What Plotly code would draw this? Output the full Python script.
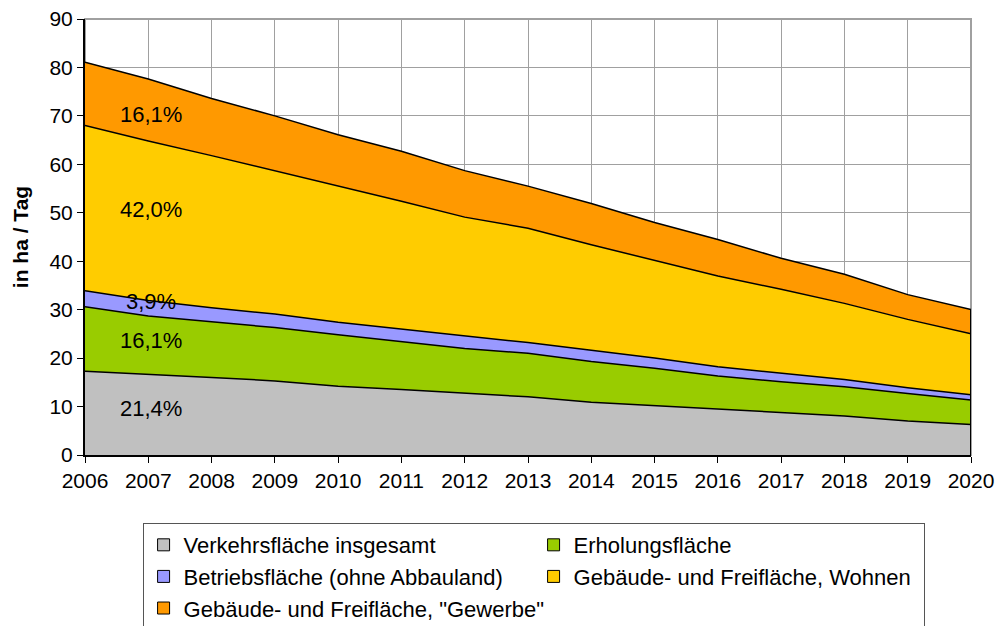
import plotly.graph_objects as go

years = list(range(2006, 2021))

verkehr = [17.3, 16.7, 16.0, 15.3, 14.2, 13.5, 12.7, 12.0, 10.9, 10.2, 9.4, 8.8, 8.05, 7.0, 6.3]
erholung = [13.3, 12.0, 11.5, 11.0, 10.6, 9.9, 9.3, 9.0, 8.4, 7.7, 6.9, 6.3, 6.05, 5.7, 5.05]
betrieb = [3.3, 3.2, 2.9, 2.8, 2.6, 2.6, 2.6, 2.2, 2.3, 2.1, 1.9, 1.8, 1.5, 1.2, 1.1]
wohnen = [34.1, 32.9, 31.4, 29.6, 28.2, 26.4, 24.5, 23.6, 21.8, 20.1, 18.75, 17.3, 15.7, 14.1, 12.6]
gewerbe = [13.1, 12.8, 11.8, 11.3, 10.5, 10.3, 9.6, 8.7, 8.5, 7.9, 7.55, 6.4, 6.0, 5.1, 5.0]

namen = [
    "Verkehrsfläche insgesamt",
    "Erholungsfläche",
    "Betriebsfläche (ohne Abbauland)",
    "Gebäude- und Freifläche, Wohnen",
    'Gebäude- und Freifläche, "Gewerbe"',
]
farben = ["#C0C0C0", "#99CC00", "#9999FF", "#FFCC00", "#FF9900"]

# Prozent-Beschriftungen (Text, y-Position in ha/Tag)
anteile = ["21,4%", "16,1%", "3,9%", "42,0%", "16,1%"]
anteil_y = [9.7, 23.7, 31.6, 50.6, 70.2]

SCHRIFT = "Liberation Sans, Arial, sans-serif"

fig = go.Figure()

reihen = [verkehr, erholung, betrieb, wohnen, gewerbe]
for name, werte, farbe in zip(namen, reihen, farben):
    fig.add_trace(go.Scatter(
        x=years, y=werte, name=name,
        mode="lines", stackgroup="a",
        line=dict(color="black", width=1.5),
        fillcolor=farbe, showlegend=False,
    ))

# rechter Abschluss der Flächen (schwarz wie im Original)
summe = [sum(v) for v in zip(*reihen)]
fig.add_trace(go.Scatter(x=[years[-1], years[-1]], y=[0, summe[-1]], mode="lines",
                         line=dict(color="black", width=2), showlegend=False,
                         hoverinfo="skip"))

# Legendeneinträge als Quadrate
for name, farbe in zip(namen, farben):
    fig.add_trace(go.Bar(x=[None], y=[None], name=name,
                         marker=dict(color=farbe, line=dict(color="black", width=1))))

for txt, yv in zip(anteile, anteil_y):
    fig.add_annotation(x=2007.05, y=yv, text=txt, showarrow=False,
                       font=dict(size=22, color="black", family=SCHRIFT))

# Seite hat 8px Rand -> Figur etwas kleiner
fig.update_layout(
    width=996, height=618,
    margin=dict(l=77, r=33, t=11, b=171, autoexpand=False),
    paper_bgcolor="white", plot_bgcolor="white",
    font=dict(family=SCHRIFT, size=21, color="black"),
    showlegend=True,
    legend=dict(
        orientation="h", x=0.065, y=-0.156, xanchor="left", yanchor="top",
        entrywidth=345, entrywidthmode="pixels",
        bordercolor="#555", borderwidth=1, bgcolor="white",
        font=dict(size=22, family=SCHRIFT), traceorder="normal",
    ),
    xaxis=dict(
        range=[2006, 2020], tickmode="linear", dtick=1, tick0=2006,
        showgrid=True, gridcolor="#A0A0A0", gridwidth=1,
        showline=True, linecolor="black", linewidth=2,
        ticks="outside", ticklen=6, tickcolor="black",
        tickfont=dict(size=21), zeroline=False, automargin=False,
        ticklabeloverflow="allow",
    ),
    yaxis=dict(
        range=[0, 90], dtick=10,
        showgrid=True, gridcolor="#A0A0A0", gridwidth=1,
        showline=True, linecolor="black", linewidth=2,
        ticks="outside", ticklen=6, tickcolor="black",
        tickfont=dict(size=21), zeroline=False, automargin=False,
        ticklabeloverflow="allow",
        title=dict(text="<b>in ha / Tag</b>", font=dict(size=21)),
    ),
    bargap=0.5,
)

# Rahmen oben/rechts in Grau
fig.add_shape(type="rect", xref="paper", yref="paper", x0=0, y0=0, x1=1, y1=1,
              line=dict(color="#A0A0A0", width=2), layer="below")

fig.write_html("out.html")
